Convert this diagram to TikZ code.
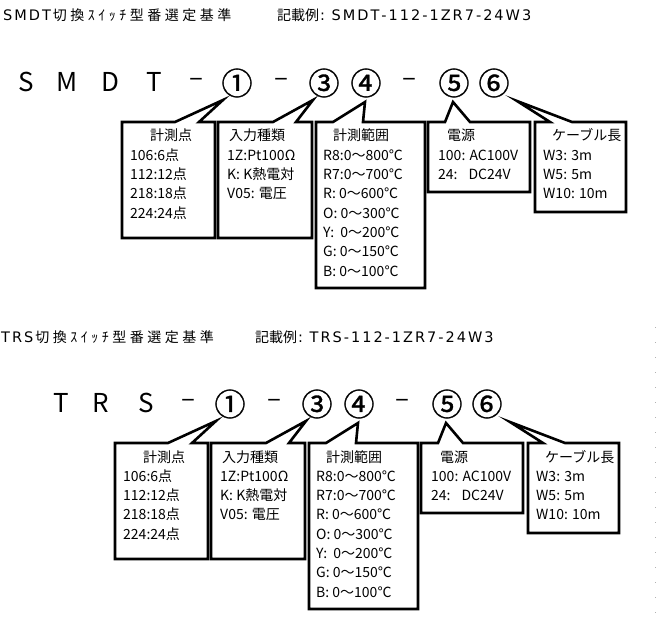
\documentclass[tikz,border=0pt]{standalone}
\usepackage{fontspec}
\newfontfamily\jpfont{Noto Sans CJK JP}
\newfontfamily\circjp[FakeBold=1]{Noto Sans CJK JP}
\newfontfamily\latfont{DejaVu Sans}
\usetikzlibrary{positioning}

% Schriften
\newcommand{\codefont}{\jpfont\fontsize{26}{26}\selectfont}
\newcommand{\circledfont}{\circjp\fontsize{31}{31}\selectfont}
\newcommand{\headfont}{\jpfont\fontsize{14}{14}\selectfont}
\newcommand{\headlat}{\latfont\fontsize{14.5}{14.5}\selectfont}
\newcommand{\cellfont}{\jpfont\fontsize{14}{19}\selectfont}

% gesperrte Zeichen in den Ueberschriften
\makeatletter
\newcommand{\spaced}[2]{\@tfor\spc:=#2\do{\spc\kern#1}}
\makeatother

\tikzset{
    calloutline/.style={draw=black, line width=2.6pt, line join=miter},
    codechar/.style={font=\codefont, inner sep=0pt, anchor=center},
    codenum/.style={font=\circledfont, inner sep=0pt, anchor=center},
    headline/.style={font=\headfont, inner sep=0pt, anchor=base west},
    boxtitle/.style={font=\cellfont, inner sep=0pt, anchor=base west},
    boxtext/.style={font=\cellfont, inner sep=0pt, anchor=base west}
}

% --- Sprechblasen mit Auswahltabellen (Koordinaten in px, y nach unten) ---
\newcommand{\boxset}[1]{%
  % Messpunkte
  \draw[calloutline] (122,122) -- (175,122) -- (223,100) -- (199,122) -- (215,122)
      -- (215,238) -- (122,238) -- cycle;
  \node[boxtitle] (#1pts) at (150,141) {計測点};
  \foreach \t [count=\i] in {106:6点, 112:12点, 218:18点, 224:24点}
    \node[boxtext] (#1pts\i) at (130,{141+19.3*\i}) {\t};
  % Eingangsart
  \draw[calloutline] (218,122) -- (273,122) -- (313,100) -- (296,122) -- (312,122)
      -- (312,238) -- (218,238) -- cycle;
  \node[boxtitle] (#1inp) at (229,141) {入力種類};
  \foreach \t [count=\i] in {1Z:Pt100Ω, K: K熱電対, V05: 電圧}
    \node[boxtext] (#1inp\i) at (227,{141+19.3*\i}) {\t};
  % Messbereich
  \draw[calloutline] (316,122) -- (333,122) -- (365,102) -- (363,122) -- (425,122)
      -- (425,288) -- (316,288) -- cycle;
  \node[boxtitle] (#1rng) at (333,141) {計測範囲};
  \foreach \t [count=\i] in {R8:0〜800℃, R7:0〜700℃, R: 0〜600℃, O: 0〜300℃,
                             Y:\ \ 0〜200℃, G: 0〜150℃, B: 0〜100℃}
    \node[boxtext] (#1rng\i) at (323,{141+19.3*\i}) {\t};
  % Versorgung
  \draw[calloutline] (428,122) -- (445,122) -- (453,102) -- (470,122) -- (530,122)
      -- (530,192) -- (428,192) -- cycle;
  \node[boxtitle] (#1pwr) at (447,141) {電源};
  \foreach \t [count=\i] in {100: AC100V, 24:\phantom{0} DC24V}
    \node[boxtext] (#1pwr\i) at (438,{141+19.3*\i}) {\t};
  % Kabellaenge
  \draw[calloutline] (535,122) -- (550,122) -- (517,101) -- (572,122) -- (626,122)
      -- (626,212) -- (535,212) -- cycle;
  \node[boxtitle] (#1cab) at (552,141) {ケーブル長};
  \foreach \t [count=\i] in {W3: 3m, W5: 5m, W10: 10m}
    \node[boxtext] (#1cab\i) at (543,{141+19.3*\i}) {\t};
  % Positionsnummern
  \foreach \x/\c [count=\i] in {237/①, 324/③, 366/④, 454/⑤, 494/⑥}
    \node[codenum] (#1num\i) at (\x,83) {\c};
  \foreach \x [count=\i] in {281, 409}
    \node[codechar] (#1sep\i) at (\x,82) {–};
}

\begin{document}
\begin{tikzpicture}[x=1pt, y=-1pt]
\useasboundingbox (0,0) rectangle (656,623);

% === SMDT ===
\node[headline] (smhead) at (3,21)
    {{\headlat\spaced{2pt}{SMDT}}\spaced{3.5pt}{切換ｽｲｯﾁ型番選定基準}};
\node[headline] (smexample) at (277,21)
    {記載例{\headlat\kern1pt:\kern2pt\ \spaced{2pt}{SMDT-112-1ZR7-24W3}}};

\foreach \x/\c [count=\i] in {26/S, 67/M, 110/D, 154/T, 196/–}
  \node[codechar] (sm\i) at (\x,82) {\c};

\boxset{sm}

% === TRS ===
\node[headline] (trhead) at (1,342)
    {{\headlat\spaced{2pt}{TRS}}\spaced{3.5pt}{切換ｽｲｯﾁ型番選定基準}};
\node[headline] (trexample) at (255,342)
    {記載例{\headlat\kern1pt:\kern2pt\ \spaced{2pt}{TRS-112-1ZR7-24W3}}};

\begin{scope}[shift={(-7,321)}]
  \foreach \x/\c [count=\i] in {68/T, 108/R, 153/S, 195/–}
    \node[codechar] (tr\i) at (\x,82) {\c};
  \boxset{tr}
\end{scope}

% Randlinie rechts (punktiert)
\draw[black!30, line width=0.8pt, dash pattern=on 1pt off 14pt] (655,327) -- (655,623);

\end{tikzpicture}
\end{document}
